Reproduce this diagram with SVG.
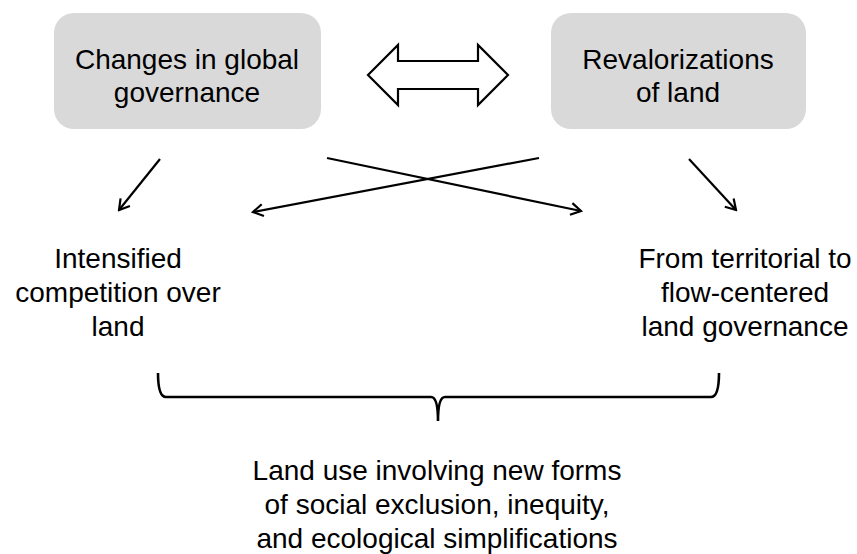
<svg xmlns="http://www.w3.org/2000/svg" width="857" height="554" viewBox="0 0 857 554">
<style>
.box{fill:#d9d9d9;stroke:none}
.t{font-family:"Liberation Sans",Arial,sans-serif;font-size:28px;fill:#000;text-anchor:middle}
.ln{stroke:#000;stroke-width:2.2;fill:none;marker-end:url(#ah)}
</style>
<defs>
<marker id="ah" viewBox="0 0 14 14" refX="12" refY="7" markerWidth="14" markerHeight="14" markerUnits="userSpaceOnUse" orient="auto">
<path d="M2,1 L12,7 L2,13" fill="none" stroke="#000" stroke-width="2.2"/>
</marker>
</defs>
<rect width="857" height="554" fill="#fff"/>
<g id="node-global">
<rect class="box" x="54" y="13" width="267" height="116" rx="20"/>
<text class="t" x="187" y="69">Changes in global</text>
<text class="t" x="187" y="102">governance</text>
</g>
<g id="node-revalorization">
<rect class="box" x="551" y="13" width="255" height="116" rx="20"/>
<text class="t" x="678" y="69">Revalorizations</text>
<text class="t" x="678" y="102">of land</text>
</g>
<g id="node-competition">
<text class="t" x="118" y="268">Intensified</text>
<text class="t" x="118" y="302">competition over</text>
<text class="t" x="118" y="336">land</text>
</g>
<g id="node-flow">
<text class="t" x="745" y="268">From territorial to</text>
<text class="t" x="745" y="302">flow-centered</text>
<text class="t" x="745" y="336">land governance</text>
</g>
<g id="node-landuse">
<text class="t" x="437" y="480">Land use involving new forms</text>
<text class="t" x="437" y="514">of social exclusion, inequity,</text>
<text class="t" x="437" y="548">and ecological simplifications</text>
</g>
<g id="connectors">
<polygon points="368,75 398,45 398,61 478,61 478,45 508,75 478,105 478,89 398,89 398,105" fill="#fff" stroke="#000" stroke-width="2.2" stroke-linejoin="miter"/>
<line class="ln" x1="160" y1="159" x2="119" y2="210"/>
<line class="ln" x1="327" y1="158" x2="581" y2="211"/>
<line class="ln" x1="539" y1="158" x2="253" y2="212"/>
<line class="ln" x1="689" y1="159" x2="736" y2="210"/>
<path d="M158,373 Q158,397 166,397 L431,397 Q438,397 438,421 Q438,397 445,397 L711,397 Q719,397 719,373" fill="none" stroke="#000" stroke-width="2.6"/>
</g>
</svg>
